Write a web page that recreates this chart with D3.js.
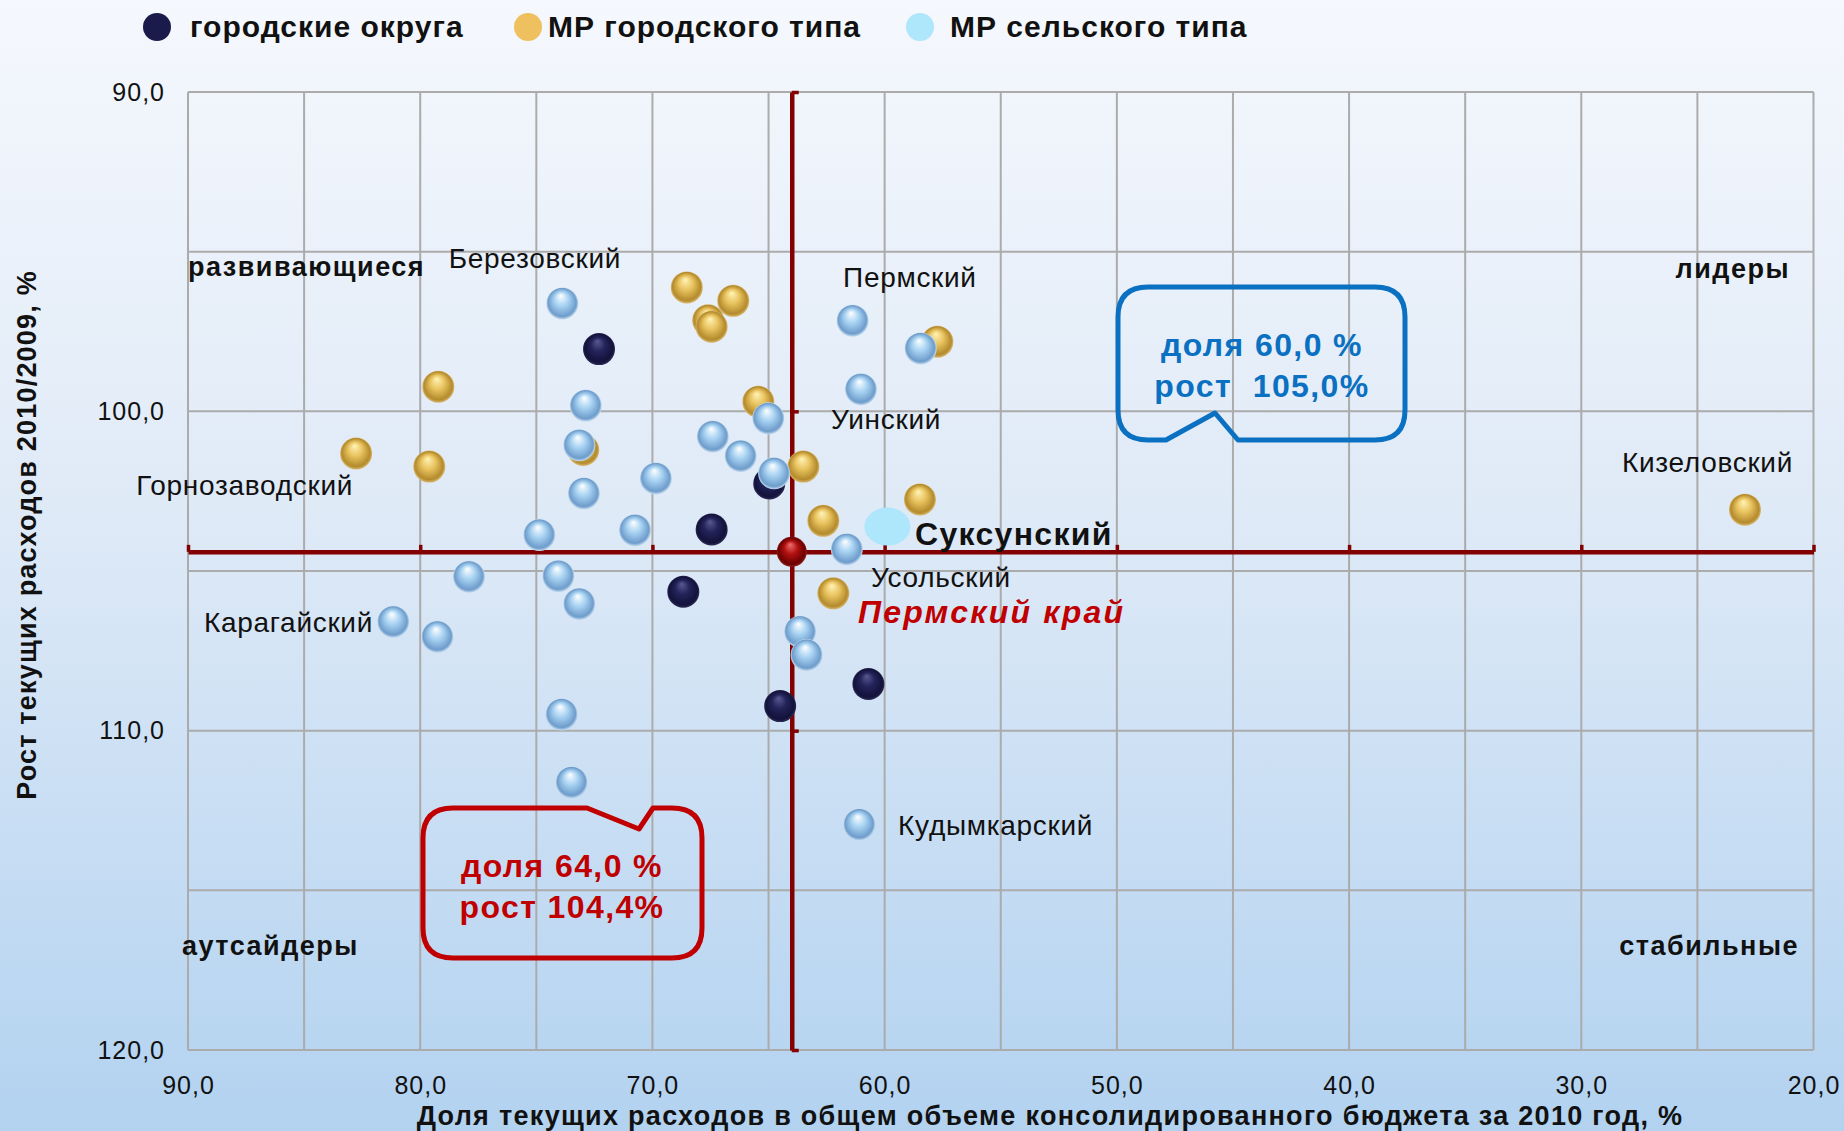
<!DOCTYPE html>
<html>
<head>
<meta charset="utf-8">
<script src="https://cdn.jsdelivr.net/npm/d3@7"></script>
<style>
  html, body { margin: 0; padding: 0; overflow: hidden; }
  svg { display: block; font-family: "Liberation Sans", Arial, sans-serif; }
</style>
</head>
<body>
<svg id="chart" width="1844" height="1131"></svg>
<script>
// values: [доля, %  ;  рост, %]
const cityDistricts = [[72.3, 98.05], [67.45, 103.7], [68.67, 105.65], [64.97, 102.26], [60.7, 108.54], [64.5, 109.23]];
const urbanMR = [[68.52, 96.12], [66.52, 96.54], [67.6, 97.15], [67.45, 97.35], [79.22, 99.23], [82.76, 101.32],
    [79.61, 101.73], [72.98, 101.21], [65.44, 99.7], [63.5, 101.73], [62.64, 103.43], [58.48, 102.76],
    [57.73, 97.82], [62.21, 105.7], [22.95, 103.08]];
const ruralMR = [[73.88, 96.62], [61.38, 97.16], [58.45, 98.03], [61.02, 99.31], [72.87, 99.82], [65.01, 100.22],
    [73.15, 101.06], [67.4, 100.79], [66.2, 101.4], [64.76, 101.94], [69.85, 102.1], [72.95, 102.57],
    [70.75, 103.72], [74.87, 103.87], [61.63, 104.32], [77.9, 105.18], [74.05, 105.16], [73.15, 106.03],
    [81.16, 106.59], [79.26, 107.06], [63.64, 106.9], [63.36, 107.63], [73.91, 109.49], [73.48, 111.62],
    [61.09, 112.94]];
const suksun = [59.88, 103.61];
const permKrai = [64.0, 104.4];

const xTicks = [90, 80, 70, 60, 50, 40, 30, 20];
const yTicks = [90, 100, 110, 120];
const legendNames = ["городские округа", "МР городского типа", "МР сельского типа"];

// point names, placed in data units
const pointLabels = [
    { text: "Березовский", x: 75.06, y: 95.51, anchor: "middle" },
    { text: "Пермский", x: 61.79, y: 96.11, anchor: "start" },
    { text: "Уинский", x: 62.31, y: 100.55, anchor: "start" },
    { text: "Горнозаводский", x: 82.89, y: 102.62, anchor: "end" },
    { text: "Кизеловский", x: 20.88, y: 101.9, anchor: "end" },
    { text: "Усольский", x: 60.59, y: 105.5, anchor: "start" },
    { text: "Карагайский", x: 82.03, y: 106.91, anchor: "end" },
    { text: "Кудымкарский", x: 59.42, y: 113.27, anchor: "start" }
];

const svg = d3.select("svg#chart");
const width = +svg.attr("width");
const height = +svg.attr("height");
const plot = { left: 188, right: 1813.5, top: 92, bottom: 1050 };

const xScale = d3.scaleLinear().domain([90, 20]).range([plot.left, plot.right]);
const yScale = d3.scaleLinear().domain([90, 120]).range([plot.top, plot.bottom]);

const defs = svg.append("defs");
const bg = defs.append("linearGradient").attr("id", "bg").attr("x1", 0).attr("y1", 0).attr("x2", 0).attr("y2", 1);
bg.append("stop").attr("offset", "0%").attr("stop-color", "#f5f8fd");
bg.append("stop").attr("offset", "45%").attr("stop-color", "#dfeaf7");
bg.append("stop").attr("offset", "100%").attr("stop-color", "#b2d2f0");

function ball(id, hi, mid, edge, rim) {
    const g = defs.append("radialGradient").attr("id", id)
        .attr("cx", "50%").attr("cy", "50%").attr("r", "50%")
        .attr("fx", "45%").attr("fy", "25%");
    g.append("stop").attr("offset", "0%").attr("stop-color", hi);
    g.append("stop").attr("offset", "45%").attr("stop-color", mid);
    g.append("stop").attr("offset", "88%").attr("stop-color", edge);
    g.append("stop").attr("offset", "100%").attr("stop-color", rim);
}
ball("ballNavy", "#5a5a92", "#23235a", "#12123a", "#2a2a55");
ball("ballGold", "#fff4b8", "#e9c35f", "#b38a2c", "#d9b870");
ball("ballBlue", "#ffffff", "#a7d2f2", "#6e9ccb", "#c4dcef");
ball("ballRed", "#f07070", "#b01010", "#6a0000", "#902020");

svg.append("rect").attr("width", width).attr("height", height).attr("fill", "url(#bg)");

// gridlines every 5 units
const grid = svg.append("g").attr("class", "grid");
grid.selectAll("line.v").data(d3.range(90, 19, -5)).join("line").attr("class", "v")
    .attr("x1", d => xScale(d)).attr("x2", d => xScale(d))
    .attr("y1", plot.top).attr("y2", plot.bottom);
grid.selectAll("line.h").data(d3.range(90, 121, 5)).join("line").attr("class", "h")
    .attr("y1", d => yScale(d)).attr("y2", d => yScale(d))
    .attr("x1", plot.left).attr("x2", plot.right);
grid.selectAll("line").attr("stroke", "#ababab").attr("stroke-width", 2);

// tick labels
const fmt = d => d.toFixed(1).replace(".", ",");
const bottomAxis = svg.append("g")
    .attr("transform", `translate(0,${plot.bottom})`)
    .call(d3.axisBottom(xScale).tickValues(xTicks).tickFormat(fmt).tickSize(0).tickPadding(26));
const leftAxis = svg.append("g")
    .attr("transform", `translate(${plot.left},0)`)
    .call(d3.axisLeft(yScale).tickValues(yTicks).tickFormat(fmt).tickSize(0).tickPadding(23));
[bottomAxis, leftAxis].forEach(a => {
    a.select(".domain").remove();
    a.selectAll("text").attr("font-size", 25).attr("fill", "#111").attr("letter-spacing", 1)
        .attr("font-family", "'Liberation Sans', Arial, sans-serif");
});

// axis titles
svg.append("text")
    .attr("x", 1050).attr("y", 1125)
    .attr("text-anchor", "middle").attr("font-size", 27).attr("font-weight", "bold").attr("fill", "#111")
    .attr("letter-spacing", 1.3)
    .text("Доля текущих расходов в общем объеме консолидированного бюджета за 2010 год, %");
svg.append("text")
    .attr("transform", "translate(36,535) rotate(-90)")
    .attr("text-anchor", "middle").attr("font-size", 27).attr("font-weight", "bold").attr("fill", "#111")
    .attr("letter-spacing", 1.2)
    .text("Рост текущих расходов 2010/2009, %");

// crosshair through Пермский край, drawn like crossing axes
const crossColor = "#820000";
const crossH = svg.append("g")
    .attr("transform", `translate(0,${yScale(permKrai[1])})`)
    .call(d3.axisTop(xScale).tickValues(xTicks).tickFormat("").tickSize(7).tickSizeOuter(0));
const crossV = svg.append("g")
    .attr("transform", `translate(${xScale(permKrai[0])},0)`)
    .call(d3.axisRight(yScale).tickValues(yTicks).tickFormat("").tickSize(7).tickSizeOuter(0));
[crossH, crossV].forEach(a => {
    a.select(".domain").attr("stroke", crossColor).attr("stroke-width", 4.5);
    a.selectAll(".tick line").attr("stroke", crossColor).attr("stroke-width", 3.5);
});

// quadrant names
const quad = svg.append("g").attr("font-size", 27).attr("font-weight", "bold").attr("fill", "#111")
    .attr("letter-spacing", 1.5);
quad.append("text").attr("x", plot.left).attr("y", 276).text("развивающиеся");
quad.append("text").attr("x", 1790).attr("y", 278).attr("text-anchor", "end").text("лидеры");
quad.append("text").attr("x", 182).attr("y", 955).text("аутсайдеры");
quad.append("text").attr("x", 1799).attr("y", 955).attr("text-anchor", "end").text("стабильные");

// point names
svg.append("g").selectAll("text").data(pointLabels).join("text")
    .attr("x", d => xScale(d.x)).attr("y", d => yScale(d.y))
    .attr("text-anchor", d => d.anchor)
    .attr("font-size", 28).attr("fill", "#111").attr("letter-spacing", 0.7)
    .text(d => d.text);

// balls
const r = 16;
function drawBalls(cls, data, fill) {
    svg.append("g").attr("class", cls).selectAll("circle").data(data).join("circle")
        .attr("cx", d => xScale(d[0])).attr("cy", d => yScale(d[1]))
        .attr("r", r).attr("fill", fill);
}
drawBalls("navy", cityDistricts, "url(#ballNavy)");
drawBalls("gold", urbanMR, "url(#ballGold)");
drawBalls("rural", ruralMR, "url(#ballBlue)");

svg.append("ellipse")
    .attr("cx", xScale(suksun[0])).attr("cy", yScale(suksun[1]))
    .attr("rx", 23).attr("ry", 19).attr("fill", "#aee6fb");
svg.append("text")
    .attr("x", xScale(58.69)).attr("y", yScale(104.19))
    .attr("font-size", 32).attr("font-weight", "bold").attr("fill", "#111").attr("letter-spacing", 1.3)
    .text("Суксунский");

svg.append("circle")
    .attr("cx", xScale(permKrai[0])).attr("cy", yScale(permKrai[1]))
    .attr("r", 15).attr("fill", "url(#ballRed)");
svg.append("text")
    .attr("x", xScale(61.15)).attr("y", yScale(106.63))
    .attr("font-size", 32).attr("font-weight", "bold").attr("font-style", "italic").attr("fill", "#c00000")
    .attr("letter-spacing", 2.2)
    .text("Пермский край");

// callouts
function callout(path, color, lines, cx, y0) {
    svg.append("path").attr("d", path).attr("fill", "none")
        .attr("stroke", color).attr("stroke-width", 5).attr("stroke-linejoin", "round");
    svg.append("g").selectAll("text").data(lines).join("text")
        .attr("x", cx).attr("y", (d, i) => y0 + i * 41)
        .attr("text-anchor", "middle").attr("font-size", 32).attr("font-weight", "bold")
        .attr("letter-spacing", 1.4)
        .attr("fill", color).attr("xml:space", "preserve")
        .text(d => d);
}
function bubble(l, t, rr, b, rad, tail, tailOnTop) {
    const [a, tip, c] = tail;
    if (tailOnTop) {
        return `M${l + rad},${t} L${a[0]},${t} L${tip[0]},${tip[1]} L${c[0]},${t} L${rr - rad},${t}` +
            ` Q${rr},${t} ${rr},${t + rad} L${rr},${b - rad} Q${rr},${b} ${rr - rad},${b}` +
            ` L${l + rad},${b} Q${l},${b} ${l},${b - rad} L${l},${t + rad} Q${l},${t} ${l + rad},${t}Z`;
    }
    return `M${l + rad},${t} L${rr - rad},${t} Q${rr},${t} ${rr},${t + rad} L${rr},${b - rad}` +
        ` Q${rr},${b} ${rr - rad},${b} L${c[0]},${b} L${tip[0]},${tip[1]} L${a[0]},${b}` +
        ` L${l + rad},${b} Q${l},${b} ${l},${b - rad} L${l},${t + rad} Q${l},${t} ${l + rad},${t}Z`;
}
callout(bubble(1118, 287, 1405, 440, 30, [[1166], [1215, 413], [1238]], false),
    "#0a70c2", ["доля 60,0 %", "рост  105,0%"], 1262, 356);
callout(bubble(423, 808, 702, 958, 30, [[587], [639, 829], [653]], true),
    "#c00000", ["доля 64,0 %", "рост 104,4%"], 562, 877);

// legend
const legendColors = ["#1b1b4b", "#efc15e", "#aee6fb"];
const legendX = [157, 528, 920];
const legendTextX = [190, 548, 950];
const legend = svg.append("g");
legend.selectAll("circle").data(legendNames).join("circle")
    .attr("cx", (d, i) => legendX[i]).attr("cy", 27).attr("r", 14)
    .attr("fill", (d, i) => legendColors[i]);
legend.selectAll("text").data(legendNames).join("text")
    .attr("x", (d, i) => legendTextX[i]).attr("y", 37)
    .attr("font-size", 30).attr("font-weight", "bold").attr("fill", "#111").attr("letter-spacing", 1)
    .text(d => d);
</script>
</body>
</html>
